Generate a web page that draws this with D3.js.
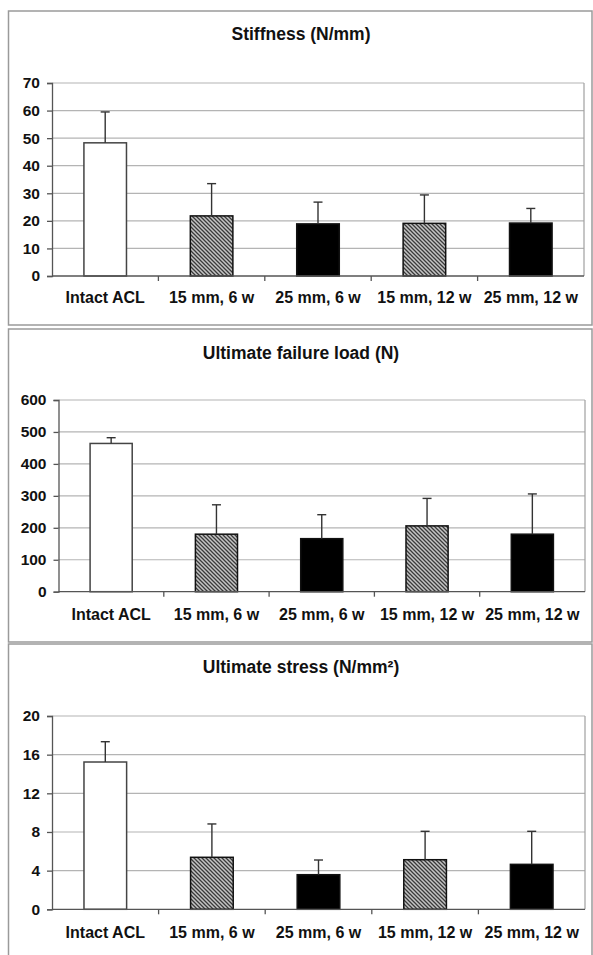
<!DOCTYPE html>
<html><head><meta charset="utf-8">
<script src="https://cdn.jsdelivr.net/npm/d3@7/dist/d3.min.js"></script>
<style>
html,body{margin:0;padding:0;background:#fff;}
svg{display:block;}
text{font-family:"Liberation Sans",Arial,sans-serif;font-weight:bold;fill:#111;}
</style></head>
<body>
<svg id="chart" width="593" height="955"></svg>
<script>
const categories = ["Intact ACL", "15 mm, 6 w", "25 mm, 6 w", "15 mm, 12 w", "25 mm, 12 w"];
const barFills = ["white", "hatch", "black", "hatch", "black"];

const stiffnessTitle = "Stiffness (N/mm)";
const stiffnessMean = [48.3, 21.8, 18.9, 19.1, 19.2];
const stiffnessSD = [11.2, 11.7, 7.9, 10.3, 5.3];
const stiffnessTicks = [0, 10, 20, 30, 40, 50, 60, 70];

const loadTitle = "Ultimate failure load (N)";
const loadMean = [464, 180, 166, 206, 180];
const loadSD = [18, 92, 75, 86, 126];
const loadTicks = [0, 100, 200, 300, 400, 500, 600];

const stressTitle = "Ultimate stress (N/mm²)";
const stressMean = [15.24, 5.38, 3.58, 5.13, 4.65];
const stressSD = [2.1, 3.45, 1.52, 2.94, 3.42];
const stressTicks = [0, 4, 8, 12, 16, 20];

const svg = d3.select("#chart");
const defs = svg.append("defs");
const pat = defs.append("pattern").attr("id", "hatch").attr("patternUnits", "userSpaceOnUse")
  .attr("width", 4).attr("height", 4);
pat.append("rect").attr("width", 4).attr("height", 4).attr("fill", "#c4c4c4");
pat.append("path").attr("d", "M-1,-1 L5,5 M-1,3 L1,5 M3,-1 L5,1")
  .attr("stroke", "#3a3a3a").attr("stroke-width", 1.3);

const panels = [
  {title: stiffnessTitle, mean: stiffnessMean, sd: stiffnessSD, ticks: stiffnessTicks,
   box: [8.5, 11, 592, 325], plot: {l: 52, r: 584, t: 83, b: 276}, titleY: 40, labY: 303},
  {title: loadTitle, mean: loadMean, sd: loadSD, ticks: loadTicks,
   box: [8.5, 329, 592, 642], plot: {l: 58.5, r: 585, t: 400, b: 591.7}, titleY: 359, labY: 620},
  {title: stressTitle, mean: stressMean, sd: stressSD, ticks: stressTicks,
   box: [8.5, 644, 592, 960], plot: {l: 52, r: 585, t: 716, b: 909.3}, titleY: 673, labY: 938}
];

panels.forEach(p => {
  const g = svg.append("g");
  const [x0, y0, x1, y1] = p.box;
  g.append("rect").attr("x", x0).attr("y", y0).attr("width", x1 - x0).attr("height", y1 - y0)
    .attr("fill", "none").attr("stroke", "#9a9a9a").attr("stroke-width", 1.5);
  g.append("text").attr("x", 301).attr("y", p.titleY).attr("text-anchor", "middle")
    .style("font-size", "17.5px").text(p.title);

  const P = p.plot;
  const x = d3.scaleBand().domain(categories).range([P.l, P.r]).padding(0);
  const y = d3.scaleLinear().domain([0, d3.max(p.ticks)]).range([P.b, P.t]);

  // gridlines
  g.append("g").selectAll("line").data(p.ticks.slice(1)).join("line")
    .attr("x1", P.l).attr("x2", P.r).attr("y1", d => y(d)).attr("y2", d => y(d))
    .attr("stroke", "#b4b4b4").attr("stroke-width", 1.2);
  // plot frame right
  g.append("line").attr("x1", P.r).attr("x2", P.r).attr("y1", P.t).attr("y2", P.b)
    .attr("stroke", "#a0a0a0").attr("stroke-width", 1.2);

  // bars
  const bw = x.bandwidth() * 0.4;
  g.append("g").selectAll("rect").data(p.mean).join("rect")
    .attr("x", (d, i) => x(categories[i]) + (x.bandwidth() - bw) / 2)
    .attr("y", d => y(d)).attr("width", bw).attr("height", d => y(0) - y(d))
    .attr("fill", (d, i) => barFills[i] === "hatch" ? "url(#hatch)" : barFills[i])
    .attr("stroke", (d, i) => i === 0 ? "#444" : "#111").attr("stroke-width", 1.5);

  // error bars (upper only)
  const eb = g.append("g").attr("stroke", "#333").attr("stroke-width", 1.4);
  p.mean.forEach((m, i) => {
    const cx = x(categories[i]) + x.bandwidth() / 2;
    eb.append("line").attr("x1", cx).attr("x2", cx).attr("y1", y(m)).attr("y2", y(m + p.sd[i]));
    eb.append("line").attr("x1", cx - 4.5).attr("x2", cx + 4.5)
      .attr("y1", y(m + p.sd[i])).attr("y2", y(m + p.sd[i]));
  });

  // y axis
  const ya = g.append("g").attr("transform", `translate(${P.l},0)`)
    .call(d3.axisLeft(y).tickValues(p.ticks).tickSize(5).tickPadding(7).tickFormat(d3.format("d")));
  ya.selectAll("path,line").attr("stroke", "#555").attr("stroke-width", 1.3);
  ya.selectAll("text").style("font-size", "15.5px").attr("fill", "#111")
    .style("font-family", "'Liberation Sans',Arial,sans-serif").style("font-weight", "bold");

  // x axis
  const xa = g.append("g").attr("transform", `translate(0,${P.b})`);
  xa.append("line").attr("x1", P.l).attr("x2", P.r).attr("stroke", "#555").attr("stroke-width", 1.3);
  xa.selectAll("line.tk").data(categories.slice(1)).join("line").attr("class", "tk")
    .attr("x1", d => x(d)).attr("x2", d => x(d)).attr("y1", 0).attr("y2", 5)
    .attr("stroke", "#555").attr("stroke-width", 1.3);
  g.append("g").selectAll("text").data(categories).join("text")
    .attr("x", d => x(d) + x.bandwidth() / 2).attr("y", p.labY).attr("text-anchor", "middle")
    .style("font-size", "16px").text(d => d);
});
</script>
</body></html>
